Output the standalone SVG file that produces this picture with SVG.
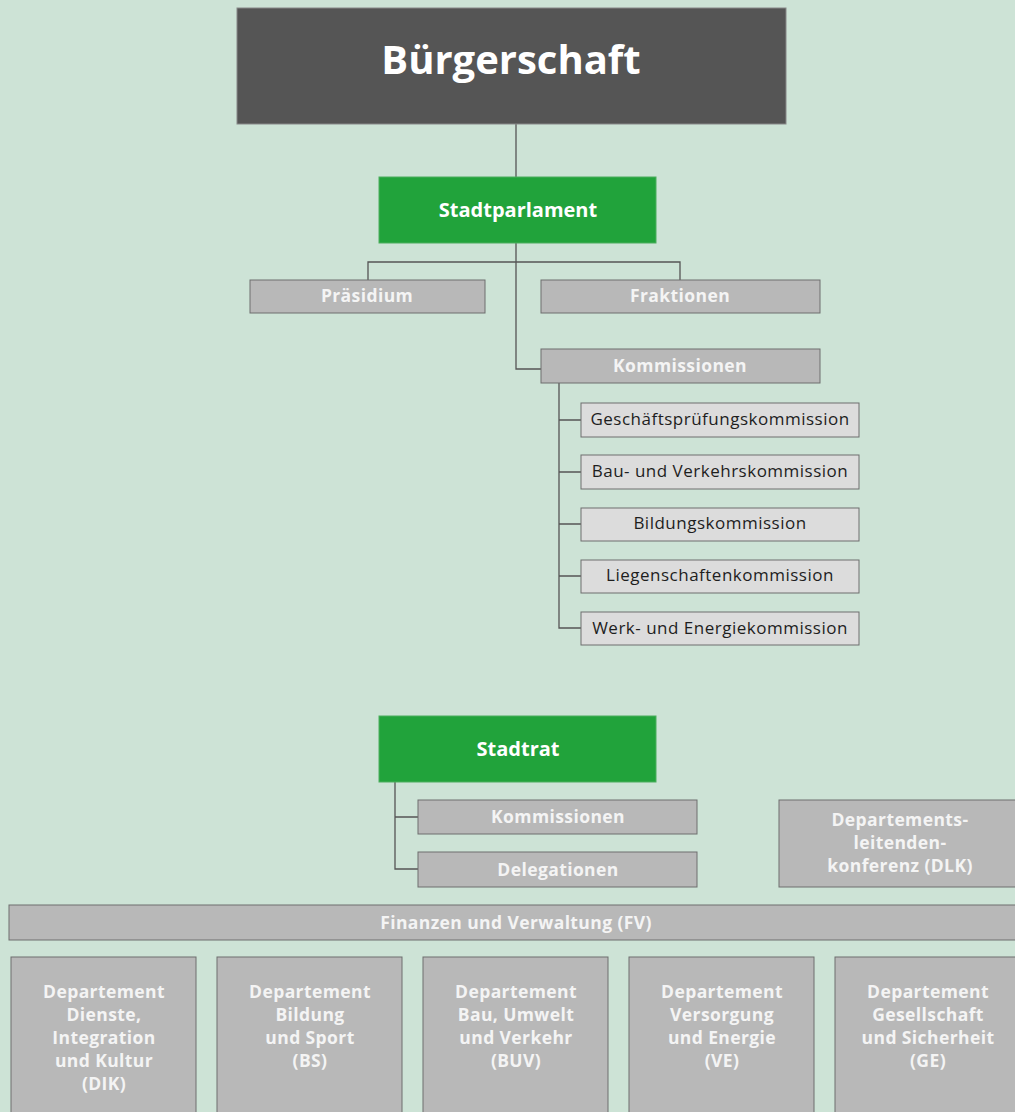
<svg xmlns="http://www.w3.org/2000/svg" width="1015" height="1112" viewBox="0 0 1015 1112">
<style>
.bg{fill:#cde3d6}
.top{fill:#555555;stroke:#888;stroke-width:1}
.green{fill:#21a33b;stroke:#4cae5e;stroke-width:1}
.gray{fill:#b8b8b8;stroke:#6e6e6e;stroke-width:1}
.light{fill:#dcdcdc;stroke:#6e6e6e;stroke-width:1}
.t{font-family:"Open Sans","Noto Sans","DejaVu Sans",sans-serif;text-anchor:middle}
.tw{fill:#ffffff;font-weight:bold}
.tg{fill:#f4f4f4;font-weight:bold;font-size:17.5px;letter-spacing:0.4px}
.td{fill:#1e1e1e;font-size:17px;letter-spacing:0.5px}
.conn{fill:none;stroke:#555;stroke-width:1.3}
</style>
<rect class="bg" x="0" y="0" width="1015" height="1112"/>
<g id="connectors">
<path class="conn" d="M516 124 V177"/>
<path class="conn" d="M516 243 V369 H541"/>
<path class="conn" d="M368 280 V262 H680 V280"/>
<path class="conn" d="M559 383 V628 H581"/>
<path class="conn" d="M559 420 H581 M559 472 H581 M559 524 H581 M559 576 H581"/>
<path class="conn" d="M395 782 V869 H418 M395 817 H418"/>
</g>
<g id="buergerschaft"><rect class="top" x="237" y="8" width="549" height="116"/><text class="t tw" x="511" y="74" font-size="40">Bürgerschaft</text></g>
<g id="stadtparlament"><rect class="green" x="379" y="177" width="277" height="66"/><text class="t tw" x="518" y="217" font-size="20">Stadtparlament</text></g>
<g id="praesidium"><rect class="gray" x="250" y="280" width="235" height="33"/><text class="t tg" x="367" y="302">Präsidium</text></g>
<g id="fraktionen"><rect class="gray" x="541" y="280" width="279" height="33"/><text class="t tg" x="680" y="302">Fraktionen</text></g>
<g id="kommissionen-sp"><rect class="gray" x="541" y="349" width="279" height="34"/><text class="t tg" x="680" y="372">Kommissionen</text></g>
<g id="gpk"><rect class="light" x="581" y="403" width="278" height="34"/><text class="t td" x="720" y="425">Geschäftsprüfungskommission</text></g>
<g id="bvk"><rect class="light" x="581" y="455" width="278" height="34"/><text class="t td" x="720" y="477">Bau- und Verkehrskommission</text></g>
<g id="bk"><rect class="light" x="581" y="508" width="278" height="33"/><text class="t td" x="720" y="529">Bildungskommission</text></g>
<g id="lk"><rect class="light" x="581" y="560" width="278" height="33"/><text class="t td" x="720" y="581">Liegenschaftenkommission</text></g>
<g id="wek"><rect class="light" x="581" y="612" width="278" height="33"/><text class="t td" x="720" y="634">Werk- und Energiekommission</text></g>
<g id="stadtrat"><rect class="green" x="379" y="716" width="277" height="66"/><text class="t tw" x="518" y="756" font-size="20">Stadtrat</text></g>
<g id="kommissionen-sr"><rect class="gray" x="418" y="800" width="279" height="34"/><text class="t tg" x="558" y="823">Kommissionen</text></g>
<g id="delegationen"><rect class="gray" x="418" y="852" width="279" height="35"/><text class="t tg" x="558" y="876">Delegationen</text></g>
<g id="dlk"><rect class="gray" x="779" y="800" width="245" height="87"/><text class="t tg" x="900" y="826">Departements-<tspan x="900" dy="23">leitenden-</tspan><tspan x="900" dy="23">konferenz (DLK)</tspan></text></g>
<g id="fv"><rect class="gray" x="9" y="905" width="1015" height="35"/><text class="t tg" x="516" y="929">Finanzen und Verwaltung (FV)</text></g>
<g id="dik"><rect class="gray" x="11" y="957" width="185" height="165"/><text class="t tg" x="104" y="998">Departement<tspan x="104" dy="23">Dienste,</tspan><tspan x="104" dy="23">Integration</tspan><tspan x="104" dy="23">und Kultur</tspan><tspan x="104" dy="23">(DIK)</tspan></text></g>
<g id="bs"><rect class="gray" x="217" y="957" width="185" height="165"/><text class="t tg" x="310" y="998">Departement<tspan x="310" dy="23">Bildung</tspan><tspan x="310" dy="23">und Sport</tspan><tspan x="310" dy="23">(BS)</tspan></text></g>
<g id="buv"><rect class="gray" x="423" y="957" width="185" height="165"/><text class="t tg" x="516" y="998">Departement<tspan x="516" dy="23">Bau, Umwelt</tspan><tspan x="516" dy="23">und Verkehr</tspan><tspan x="516" dy="23">(BUV)</tspan></text></g>
<g id="ve"><rect class="gray" x="629" y="957" width="185" height="165"/><text class="t tg" x="722" y="998">Departement<tspan x="722" dy="23">Versorgung</tspan><tspan x="722" dy="23">und Energie</tspan><tspan x="722" dy="23">(VE)</tspan></text></g>
<g id="ge"><rect class="gray" x="835" y="957" width="185" height="165"/><text class="t tg" x="928" y="998">Departement<tspan x="928" dy="23">Gesellschaft</tspan><tspan x="928" dy="23">und Sicherheit</tspan><tspan x="928" dy="23">(GE)</tspan></text></g>
</svg>
